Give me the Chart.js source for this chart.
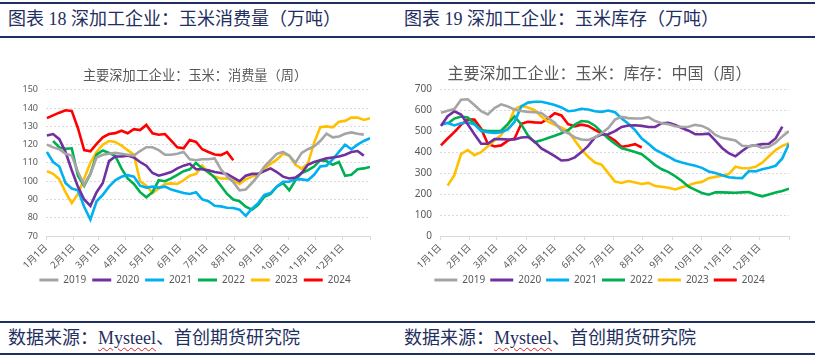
<!DOCTYPE html>
<html><head><meta charset="utf-8">
<script src="https://cdn.jsdelivr.net/npm/chart.js@4/dist/chart.umd.min.js"></script>
<style>
body{margin:0;width:815px;height:356px;background:#fff;position:relative;overflow:hidden;}
.hline{position:absolute;left:0;width:815px;background:#1f2f5f;}
.hd{position:absolute;font-family:"Liberation Serif","Noto Sans CJK SC",serif;font-size:18px;color:#1f2f5f;white-space:nowrap;line-height:20px;}
.sq{text-decoration:underline wavy #e02020;text-decoration-thickness:1px;text-underline-offset:3px;}
#w1{position:absolute;left:0;top:40px;width:400px;height:255px;}
#w2{position:absolute;left:400px;top:40px;width:415px;height:255px;}
</style></head>
<body>
<div class="hline" style="top:2px;height:2px"></div>
<div class="hd" style="left:8px;top:9px">图表 18 深加工企业：玉米消费量（万吨）</div>
<div class="hd" style="left:404px;top:9px">图表 19 深加工企业：玉米库存（万吨）</div>
<div class="hline" style="top:36px;height:1.5px"></div>
<div class="hline" style="top:321px;height:1.5px"></div>
<div class="hd" style="left:8px;top:328px">数据来源：<span class="sq">Mysteel</span>、首创期货研究院</div>
<div class="hd" style="left:404px;top:328px">数据来源：<span class="sq">Mysteel</span>、首创期货研究院</div>
<div class="hline" style="top:353px;height:2px"></div>
<div id="w1"><canvas id="c1"></canvas></div>
<div id="w2"><canvas id="c2"></canvas></div>
<script>
// ---- shared axis data ----
const monthDays = [0,31,59,90,120,151,181,212,243,273,304,334];
const monthLabels = ['1月1日','2月1日','3月1日','4月1日','5月1日','6月1日','7月1日','8月1日','9月1日','10月1日','11月1日','12月1日'];
const seriesNames = ['2019','2020','2021','2022','2023','2024'];
const seriesColors = ['#A5A5A5','#7030A0','#00B0F0','#00B050','#FFC000','#FF0000'];

// ---- chart 18: consumption (10k t), weekly from week 0 ----
const cons2019 = [120,118.5,117.5,115,114,105,98,104,113,114.5,115,115.5,115,114.5,114,116.5,118.6,118.6,117,114.5,114.5,115,116,112,111.5,112,112,112.5,106.5,102.7,99.5,95,95.5,99,103,108,111.5,115,116,114,110,115.5,117.5,119,122,126,124,124.5,126,126.7,126,125.5];
const cons2020 = [125,125.8,123,116,106,97,90,86.5,94,99,111,113.5,113.5,114,113,110.5,108.5,104.5,103,104,105,107,108.5,109.5,106.5,106.5,106,105,104.5,104,102,100,103,104,104,105.5,107,105,102.5,101.5,102,104.5,109,110.5,111.5,112.5,113,113.5,114.5,116,116.5,114];
const cons2021 = [116,110.5,108,99,96,95,86,79,89,92.5,97,100.5,102.4,103.3,102.5,97.5,96.5,97,96.5,97,95.5,94.5,93.5,93,94,90,89,86.5,86.2,85.5,85.3,84.4,81,85,88,92.5,93.5,97,99.7,99.7,101,101,100.5,103.5,108,108.5,112,116,120,117.5,120,122,123.5];
const cons2022 = [null,122,118.5,117.7,118,103,97.5,104,114.5,116.8,115.5,113.8,107,101.5,98.5,94,91.2,94,100.5,100,101.5,103.5,105.5,106.5,110,107,105,102,97.5,93,90,89,86,84.4,87,91.5,93,97,99,95,100.5,104.5,106,108,111.5,111,109,110.5,103,103.5,106.5,107,107.8];
const cons2023 = [105.5,104,101,94,88,93,101.5,110,116,120,122,121.5,119.5,117,114.5,100,97.5,93.5,96,98.5,98.8,98.5,100.5,103,104,108.5,104.5,102.5,101.5,101.5,100.5,98.5,101,102.5,103.5,106.5,109.5,111.8,115,114,109,106.9,109.5,121,129.5,130,129.5,132.5,133,134.8,134.8,133.5,134.5];
const cons2024 = [134.5,136,137.5,138.8,138.5,129,117,116.4,120.4,124,125.8,126.3,127.6,126.2,128.5,128,130.8,126.2,125.4,125.8,122.2,118.5,118,122.5,121.5,117.5,116,114.6,114.3,115.9,111.5];

// ---- chart 19: inventory (10k t), weekly from week 0 ----
const inv2019 = [588,597,605,650,652,625,595,580,610,628,618,602,596,592,590,587,563,540,505,490,470,460,458,470,490,515,555,568,562,560,560,567,548,538,533,523,520,521,530,525,510,482,468,462,455,430,428,432,420,425,445,475,500];
const inv2020 = [525,571,595,579,533,485,440,440,462,462,460,460,470,472,450,418,400,381,360,362,375,400,430,470,484,485,500,520,527,528,525,520,520,538,540,530,515,502,485,485,488,455,420,395,380,405,428,433,438,440,465,522];
const inv2021 = [531,539,527,537,542,532,500,495,492,495,508,545,618,636,640,640,633,625,613,595,598,607,603,595,592,598,590,560,535,505,465,440,412,395,378,360,350,342,335,325,308,300,290,280,277,276,310,308,318,325,335,370,440];
const inv2022 = [null,535,560,570,565,535,505,500,500,502,535,570,532,480,447,456,467,478,490,505,531,548,545,526,495,465,440,418,410,400,390,365,338,318,305,285,262,235,220,205,197,208,208,207,206,208,210,198,189,198,207,215,226];
const inv2023 = [null,240,290,390,410,385,400,428,455,482,528,605,620,613,600,570,545,530,518,500,455,412,378,350,340,300,260,253,262,255,248,253,238,235,230,222,232,242,253,258,276,282,288,295,330,323,323,330,350,380,410,430,442];
const inv2024 = [432,465,495,530,556,555,512,440,427,432,455,465,535,545,542,540,560,585,575,533,523,531,525,506,490,475,455,425,430,438,422];

const consSeries = [cons2019,cons2020,cons2021,cons2022,cons2023,cons2024];
const invSeries = [inv2019,inv2020,inv2021,inv2022,inv2023,inv2024];

const FONT = '"Noto Sans","Noto Sans CJK SC",sans-serif';
const toPoints = arr => arr.map((v,i)=>({x: 7*i+1, y: v}));

function makeChart(id, series, opt){
  return new Chart(document.getElementById(id), {
    type:'line',
    data:{datasets: series.map((arr,k)=>({
      label: seriesNames[k], data: toPoints(arr),
      borderColor: seriesColors[k], backgroundColor: seriesColors[k],
      borderWidth: 2.6, pointRadius: 0, tension: 0, spanGaps: false
    }))},
    options:{
      responsive:true, maintainAspectRatio:false, animation:false,
      layout:{padding:{left:opt.padLeft,right:opt.padRight,top:0,bottom:0}},
      plugins:{
        tooltip:{enabled:false},
        title:{display:true,text:opt.title,color:'#595959',
          font:{family:FONT,size:opt.titleSize,weight:'normal'},
          padding:{top:opt.titleTop,bottom:opt.titleBottom}},
        legend:{position:'bottom',
          labels:{boxWidth:opt.boxW,boxHeight:3,color:'#595959',padding:opt.legPad,
            font:{family:FONT,size:10},
            generateLabels:(chart)=>Chart.defaults.plugins.legend.labels.generateLabels(chart).map(l=>Object.assign(l,{lineWidth:0}))}}
      },
      scales:{
        x:{type:'linear',min:0,max:365,
          afterBuildTicks:(s)=>{s.ticks = monthDays.concat([365]).map(v=>({value:v}));},
          afterFit:(s)=>{s.height = opt.xHeight;},
          ticks:{autoSkip:false,minRotation:45,maxRotation:45,color:'#595959',padding:2,
            font:{family:FONT,size:9.5},
            callback:(v,i)=> (i < monthLabels.length ? monthLabels[i] : '')},
          grid:{drawOnChartArea:false,drawTicks:true,tickLength:4,color:'#D9D9D9'},
          border:{display:true,color:'#D9D9D9'}},
        y:{min:opt.yMin,max:opt.yMax,
          afterFit:(s)=>{s.width = opt.yWidth;},
          ticks:{stepSize:opt.yStep,color:'#595959',padding:8,font:{family:FONT,size:opt.yFont}},
          grid:{color:'#D9D9D9',drawTicks:false,lineWidth:1},
          border:{display:false,dash:[2,2]}}
      }
    }
  });
}

makeChart('c1', consSeries, {title:'主要深加工企业：玉米：消费量（周）',titleSize:13.2,titleTop:28,titleBottom:6,
  padLeft:20,padRight:30,yMin:70,yMax:150,yStep:10,yWidth:26,yFont:9,boxW:19,legPad:6,xHeight:33});
makeChart('c2', invSeries, {title:'主要深加工企业：玉米：库存：中国（周）',titleSize:16,titleTop:25,titleBottom:5,
  padLeft:10,padRight:26,yMin:0,yMax:700,yStep:100,yWidth:30,yFont:10,boxW:23,legPad:5,xHeight:34});
</script>
</body></html>
